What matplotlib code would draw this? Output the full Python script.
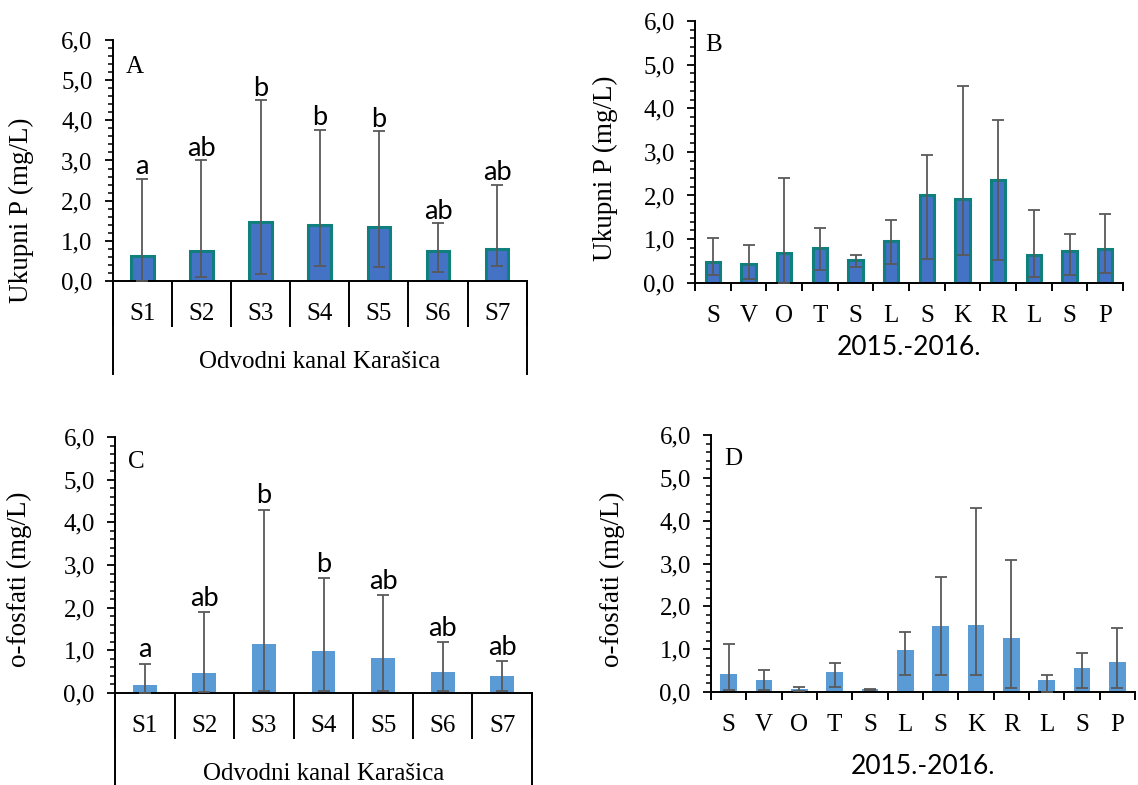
import numpy as np
import matplotlib.pyplot as plt
from matplotlib.ticker import MultipleLocator, FuncFormatter

plt.rcParams['font.family'] = ['Liberation Serif', 'DejaVu Serif']

# site means with min / max (error bars) - panel A and C
sites = ['S1', 'S2', 'S3', 'S4', 'S5', 'S6', 'S7']
ukp_site_mean = [0.62, 0.74, 1.48, 1.40, 1.34, 0.74, 0.80]
ukp_site_min = [0.00, 0.09, 0.17, 0.37, 0.35, 0.23, 0.37]
ukp_site_max = [2.55, 3.00, 4.51, 3.77, 3.73, 1.45, 2.40]
ukp_site_letters = ['a', 'ab', 'b', 'b', 'b', 'ab', 'ab']

ofos_site_mean = [0.19, 0.47, 1.15, 0.99, 0.83, 0.49, 0.41]
ofos_site_min = [0.00, 0.03, 0.04, 0.05, 0.05, 0.04, 0.04]
ofos_site_max = [0.69, 1.90, 4.30, 2.69, 2.29, 1.19, 0.74]
ofos_site_letters = ['a', 'ab', 'b', 'b', 'ab', 'ab', 'ab']

# monthly means 2015-2016 - panel B and D
months = ['S', 'V', 'O', 'T', 'S', 'L', 'S', 'K', 'R', 'L', 'S', 'P']
ukp_month_mean = [0.47, 0.43, 0.68, 0.79, 0.52, 0.96, 2.01, 1.93, 2.36, 0.64, 0.73, 0.78]
ukp_month_min = [0.18, 0.09, 0.00, 0.29, 0.37, 0.44, 0.55, 0.63, 0.51, 0.12, 0.17, 0.23]
ukp_month_max = [1.02, 0.86, 2.41, 1.25, 0.63, 1.43, 2.92, 4.51, 3.74, 1.66, 1.11, 1.58]

ofos_month_mean = [0.42, 0.27, 0.07, 0.47, 0.06, 0.97, 1.53, 1.57, 1.26, 0.27, 0.57, 0.70]
ofos_month_min = [0.05, 0.04, 0.02, 0.12, 0.04, 0.40, 0.40, 0.40, 0.10, 0.00, 0.10, 0.10]
ofos_month_max = [1.12, 0.51, 0.11, 0.67, 0.07, 1.40, 2.69, 4.29, 3.09, 0.40, 0.92, 1.49]

W, H = 1138, 785
FS = 18      # serif text size
FS_LAB = 19.5
FS_SANS = 19.5

fig = plt.figure(figsize=(W / 100, H / 100), dpi=100)


def rect(left, right, top, bottom):
    return [left / W, 1 - bottom / H, (right - left) / W, (bottom - top) / H]


def comma(v, pos):
    return f'{v:.1f}'.replace('.', ',')


def draw_panel(ax, cats, mean, lo, hi, face, edge, width):
    x = np.arange(len(cats))
    mean = np.array(mean)
    lo = np.array(lo)
    hi = np.array(hi)
    if edge:
        ax.bar(x, mean, width, color=face, edgecolor=edge, linewidth=2.2, zorder=2)
    else:
        ax.bar(x, mean, width, color=face, linewidth=0, zorder=2)
    ax.errorbar(x, mean, yerr=[mean - lo, hi - mean], fmt='none', ecolor='#595959',
                elinewidth=1.3, capsize=4.5, capthick=1.3, zorder=3)
    ax.set_xlim(-0.5, len(cats) - 0.5)
    ax.set_ylim(0, 6)
    ax.yaxis.set_major_locator(MultipleLocator(1))
    ax.yaxis.set_minor_locator(MultipleLocator(0.2))
    ax.yaxis.set_major_formatter(FuncFormatter(comma))
    for s in ['top', 'right']:
        ax.spines[s].set_visible(False)
    for s in ['left', 'bottom']:
        ax.spines[s].set_linewidth(1.4)
    ax.tick_params(axis='y', which='major', length=5.5, width=1.3, pad=9, labelsize=FS)
    ax.tick_params(axis='y', which='minor', length=3.6, width=1.1)
    ax.set_xticks(x, cats)
    ax.set_xticks(np.arange(len(cats) + 1) - 0.5, minor=True)
    ax.tick_params(axis='x', which='major', length=0, pad=16, labelsize=FS)
    return x


def add_letters(ax, x, hi, letters, off):
    for i, t in zip(x, letters):
        ax.annotate(t, (i, hi[i]), xytext=(0, off), textcoords='offset points',
                    ha='center', va='baseline', fontsize=FS_SANS, family=['Lato', 'DejaVu Sans'])


def site_axis(ax, hpx):
    # two-level category axis like excel
    ax.tick_params(axis='x', which='minor', length=33, width=1.4)
    for xe in [-0.5, len(sites) - 0.5]:
        ax.plot([xe, xe], [0, -93 / hpx], color='black', lw=1.4,
                transform=ax.get_xaxis_transform(), clip_on=False)
    ax.annotate('Odvodni kanal Karašica', (0.5, 0), xycoords='axes fraction',
                xytext=(0, -87), textcoords='offset pixels', ha='center', va='baseline',
                fontsize=FS)


def month_axis(ax, off):
    ax.tick_params(axis='x', which='minor', length=5.8, width=1.4)
    ax.annotate('2015.-2016.', (0.5, 0), xycoords='axes fraction',
                xytext=(0, -off), textcoords='offset pixels', ha='center', va='center',
                fontsize=FS_SANS - 0.5, family=['Lato', 'DejaVu Sans'])


# A
axA = fig.add_axes(rect(112.7, 526.7, 40, 281))
x = draw_panel(axA, sites, ukp_site_mean, ukp_site_min, ukp_site_max, '#4472C4', '#10807F', 0.38)
add_letters(axA, x, ukp_site_max, ukp_site_letters, 3)
site_axis(axA, 241)
axA.set_ylabel('Ukupni P (mg/L)', fontsize=FS_LAB)
axA.yaxis.set_label_coords(-0.19, 0.295)
axA.text(0.032, 0.864, 'A', transform=axA.transAxes, fontsize=FS, va='baseline')

# B
axB = fig.add_axes(rect(695, 1123, 21, 282.7))
draw_panel(axB, months, ukp_month_mean, ukp_month_min, ukp_month_max, '#4472C4', '#10807F', 0.40)
month_axis(axB, 65)
axB.set_ylabel('Ukupni P (mg/L)', fontsize=FS_LAB)
axB.yaxis.set_label_coords(-0.181, 0.439)
axB.text(0.023, 0.886, 'B', transform=axB.transAxes, fontsize=FS, va='baseline')

# C
axC = fig.add_axes(rect(115, 532, 437, 693))
x = draw_panel(axC, sites, ofos_site_mean, ofos_site_min, ofos_site_max, '#5B9BD5', None, 0.40)
add_letters(axC, x, ofos_site_max, ofos_site_letters, 4.5)
site_axis(axC, 256)
axC.set_ylabel('o-fosfati (mg/L)', fontsize=FS_LAB)
axC.yaxis.set_label_coords(-0.199, 0.445)
axC.text(0.032, 0.879, 'C', transform=axC.transAxes, fontsize=FS, va='baseline')

# D
axD = fig.add_axes(rect(711, 1135, 435, 692))
draw_panel(axD, months, ofos_month_mean, ofos_month_min, ofos_month_max, '#5B9BD5', None, 0.48)
month_axis(axD, 75)
axD.set_ylabel('o-fosfati (mg/L)', fontsize=FS_LAB)
axD.yaxis.set_label_coords(-0.204, 0.44)
axD.text(0.03, 0.883, 'D', transform=axD.transAxes, fontsize=FS, va='baseline')

fig.savefig('out.png', dpi=100)
